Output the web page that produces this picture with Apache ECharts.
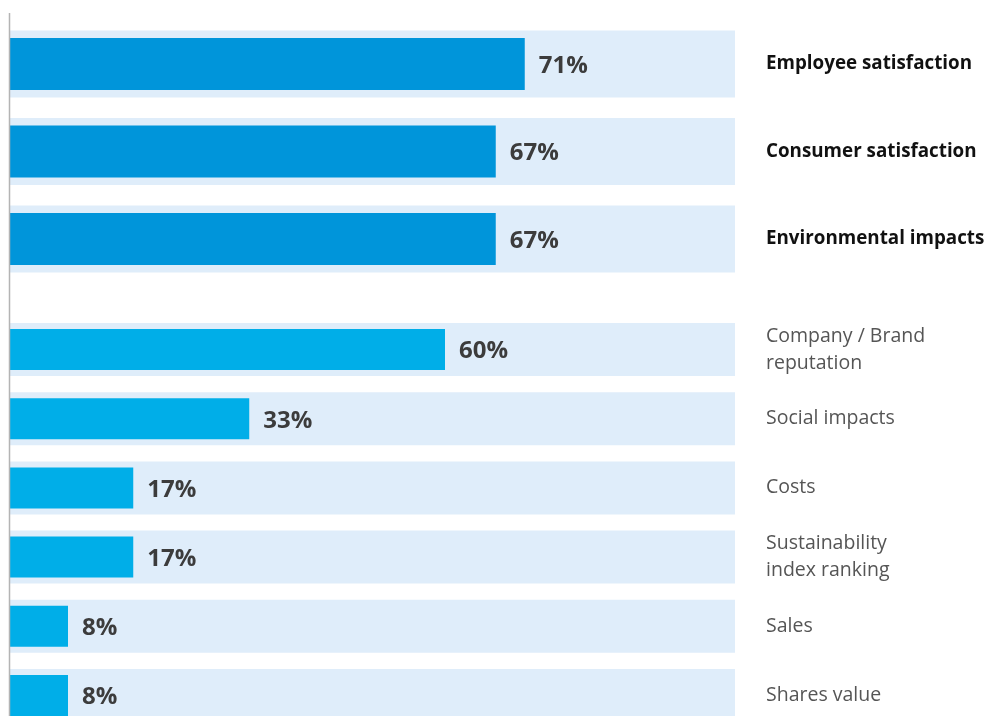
<!DOCTYPE html>
<html>
<head>
<meta charset="utf-8">
<script src="https://cdn.jsdelivr.net/npm/echarts@6/dist/echarts.min.js"></script>
<style>
  html, body { margin: 0; padding: 0; background: #ffffff; overflow: hidden; }
  /* the last row runs past the bottom edge of the view */
  #chart { width: 991px; height: 740px; }
</style>
</head>
<body>
<div id="chart"></div>
<script>
// Top group: main drivers
const topCategories = ['Employee satisfaction', 'Consumer satisfaction', 'Environmental impacts'];
const topValues = [71, 67, 67];

// Bottom group: secondary drivers
const bottomCategories = ['Company / Brand\nreputation', 'Social impacts', 'Costs', 'Sustainability\nindex ranking', 'Sales', 'Shares value'];
const bottomValues = [60, 33, 17, 17, 8, 8];

const scaleMax = 100;

const FONT = '"Open Sans", sans-serif';
const TRACK = '#DFEDFA';
const TOP_BAR = '#0095DA';
const BOTTOM_BAR = '#00AEE8';
const VALUE_COLOR = '#3c3c3c';

function valueLabel() {
  return {
    show: true,
    position: 'right',
    distance: 14,
    offset: [0, 2],
    formatter: '{c}%',
    fontFamily: FONT,
    fontWeight: 'bold',
    fontSize: 24,
    color: VALUE_COLOR
  };
}

// category axis carrying the row names on the right
function namedAxis(gridIndex, categories, bold, color) {
  return {
    gridIndex, type: 'category', data: categories, inverse: true, position: 'right',
    axisLine: { show: false }, axisTick: { show: false }, splitLine: { show: false },
    axisLabel: {
      margin: 31, align: 'left', fontFamily: FONT, fontWeight: bold ? 'bold' : 'normal',
      fontSize: bold ? 18.8 : 19.5, lineHeight: 27, color
    }
  };
}

// hidden twin axis so the value bars centre on their tracks
function twinAxis(gridIndex, categories) {
  return { gridIndex, type: 'category', data: categories, inverse: true, show: false };
}

const chart = echarts.init(document.getElementById('chart'), null, { renderer: 'canvas' });

chart.setOption({
  animation: false,
  backgroundColor: '#ffffff',
  grid: [
    { left: 10, width: 725, top: 20.25, height: 262.5, containLabel: false, outerBoundsMode: 'none' },
    { left: 10, width: 725, top: 314.9, height: 415.2, containLabel: false, outerBoundsMode: 'none' }
  ],
  xAxis: [
    { gridIndex: 0, type: 'value', min: 0, max: scaleMax, show: false },
    { gridIndex: 1, type: 'value', min: 0, max: scaleMax, show: false }
  ],
  yAxis: [
    namedAxis(0, topCategories, true, '#111111'),
    twinAxis(0, topCategories),
    namedAxis(1, bottomCategories, false, '#555555'),
    twinAxis(1, bottomCategories)
  ],
  series: [
    {
      type: 'bar', xAxisIndex: 0, yAxisIndex: 0, barWidth: 67, silent: true,
      itemStyle: { color: TRACK }, data: topCategories.map(() => scaleMax)
    },
    {
      type: 'bar', xAxisIndex: 0, yAxisIndex: 1, barWidth: 52,
      itemStyle: { color: TOP_BAR }, label: valueLabel(), data: topValues
    },
    {
      type: 'bar', xAxisIndex: 1, yAxisIndex: 2, barWidth: 53, silent: true,
      itemStyle: { color: TRACK }, data: bottomCategories.map(() => scaleMax)
    },
    {
      type: 'bar', xAxisIndex: 1, yAxisIndex: 3, barWidth: 41,
      itemStyle: { color: BOTTOM_BAR }, label: valueLabel(), data: bottomValues
    }
  ],
  graphic: [
    {
      type: 'line', z: 100,
      shape: { x1: 9.5, y1: 13, x2: 9.5, y2: 740 },
      style: { stroke: '#b4b4b4', lineWidth: 1.5 }
    }
  ]
});
</script>
</body>
</html>
